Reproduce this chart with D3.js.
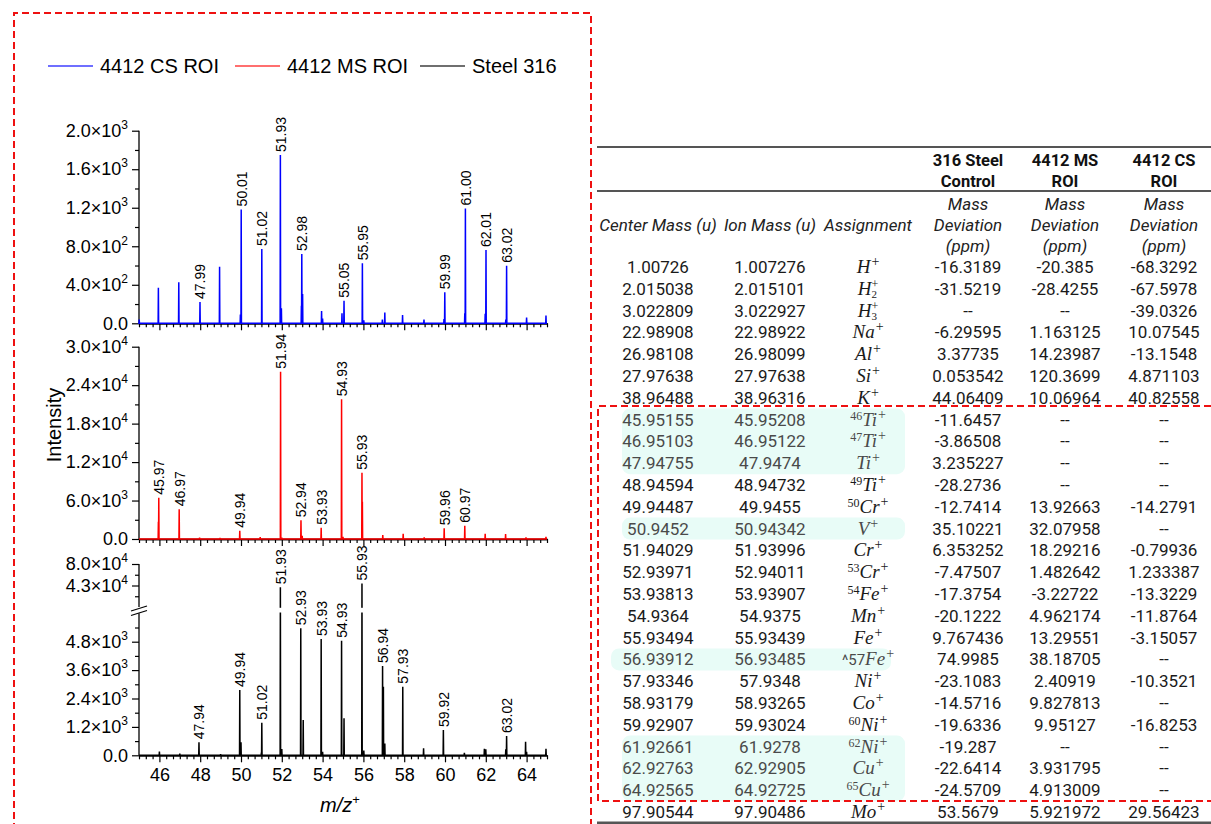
<!DOCTYPE html>
<html>
<head>
<meta charset="utf-8">
<script src="https://cdn.jsdelivr.net/npm/d3@7"></script>
<style>
  html, body { margin: 0; padding: 0; background: #fff; }
  svg { display: block; }
</style>
</head>
<body>
<svg id="chart" width="1211" height="824"></svg>
<script>
// ---------- spectra (m/z, intensity) ----------
const seriesNames = ["4412 CS ROI", "4412 MS ROI", "Steel 316"];
const seriesColors = ["#0000ff", "#ff0000", "#000000"];

const csMz  = [45.01, 45.95, 46.95, 47.99, 48.95, 49.97, 50.01, 51.02, 51.93, 51.98, 52.96, 52.98, 53.02, 53.95, 54.00, 54.95, 55.05, 55.95, 56.02, 56.93, 57.05, 57.92, 58.97, 59.95, 59.99, 60.97, 61.00, 61.97, 62.01, 62.98, 63.02, 64.00, 64.95];
const csInt = [40, 370, 425, 221, 588, 90, 1183, 771, 1747, 156, 183, 719, 304, 128, 50, 104, 235, 623, 30, 40, 113, 85, 40, 45, 323, 105, 1193, 100, 760, 40, 598, 60, 80];
const csLabels = [47.99, 50.01, 51.02, 51.93, 52.98, 55.05, 55.95, 59.99, 61.00, 62.01, 63.02];

const msMz  = [45.95, 45.97, 46.97, 47.97, 48.97, 49.94, 50.94, 51.94, 52.00, 52.94, 53.00, 53.93, 54.93, 55.00, 55.93, 55.95, 56.95, 57.95, 58.98, 59.96, 60.97, 61.97, 62.97, 63.97, 64.95];
const msInt = [2700, 6440, 4630, 200, 150, 1300, 300, 26100, 200, 2910, 500, 1770, 21790, 350, 10340, 5800, 620, 830, 250, 1660, 2080, 830, 780, 250, 350];
const msLabels = [45.97, 46.97, 49.94, 51.94, 52.94, 53.93, 54.93, 55.93, 59.96, 60.97];

const stMz  = [46.00, 47.00, 47.94, 49.00, 49.94, 50.00, 51.00, 51.02, 51.93, 52.00, 52.93, 53.05, 53.93, 54.00, 54.93, 55.05, 55.93, 56.02, 56.94, 56.98, 57.05, 57.93, 58.95, 59.92, 60.95, 61.93, 62.00, 62.98, 63.02, 63.95, 64.00, 64.95];
const stInt = [160, 70, 550, 50, 2760, 550, 120, 1377, 40000, 260, 5366, 1490, 4913, 150, 4842, 1563, 46500, 200, 3773, 2900, 500, 2900, 300, 1070, 100, 280, 250, 250, 815, 575, 150, 280];
const stLabels = [47.94, 49.94, 51.02, 51.93, 52.93, 53.93, 54.93, 55.93, 56.94, 57.93, 59.92, 63.02];

// ---------- axis ticks ----------
const xMajor = [46, 48, 50, 52, 54, 56, 58, 60, 62, 64];
const topTicks = [0, 400, 800, 1200, 1600, 2000];
const midTicks = [0, 6000, 12000, 18000, 24000, 30000];
const lowTicks = [0, 1200, 2400, 3600, 4800];
const highTicks = [43000, 80000];

// ---------- mass table ----------
const centerMass = [1.00726, 2.015038, 3.022809, 22.98908, 26.98108, 27.97638, 38.96488, 45.95155, 46.95103, 47.94755, 48.94594, 49.94487, 50.9452, 51.94029, 52.93971, 53.93813, 54.9364, 55.93494, 56.93912, 57.93346, 58.93179, 59.92907, 61.92661, 62.92763, 64.92565, 97.90544];
const ionMass = [1.007276, 2.015101, 3.022927, 22.98922, 26.98099, 27.97638, 38.96316, 45.95208, 46.95122, 47.9474, 48.94732, 49.9455, 50.94342, 51.93996, 52.94011, 53.93907, 54.9375, 55.93439, 56.93485, 57.9348, 58.93265, 59.93024, 61.9278, 62.92905, 64.92725, 97.90486];
const ionIsotope = ["", "", "", "", "", "", "", "46", "47", "", "49", "50", "", "", "53", "54", "", "", "^57", "", "", "60", "62", "", "65", ""];
const ionElement = ["H", "H", "H", "Na", "Al", "Si", "K", "Ti", "Ti", "Ti", "Ti", "Cr", "V", "Cr", "Cr", "Fe", "Mn", "Fe", "Fe", "Ni", "Co", "Ni", "Ni", "Cu", "Cu", "Mo"];
const ionSubscript = ["", "2", "3", "", "", "", "", "", "", "", "", "", "", "", "", "", "", "", "", "", "", "", "", "", "", ""];
const devSteel = [-16.3189, -31.5219, null, -6.29595, 3.37735, 0.053542, 44.06409, -11.6457, -3.86508, 3.235227, -28.2736, -12.7414, 35.10221, 6.353252, -7.47507, -17.3754, -20.1222, 9.767436, 74.9985, -23.1083, -14.5716, -19.6336, -19.287, -22.6414, -24.5709, 53.5679];
const devMS = [-20.385, -28.4255, null, 1.163125, 14.23987, 120.3699, 10.06964, null, null, null, null, 13.92663, 32.07958, 18.29216, 1.482642, -3.22722, 4.962174, 13.29551, 38.18705, 2.40919, 9.827813, 9.95127, null, 3.931795, 4.913009, 5.921972];
const devCS = [-68.3292, -67.5978, -39.0326, 10.07545, -13.1548, 4.871103, 40.82558, null, null, null, null, -14.2791, null, -0.79936, 1.233387, -13.3229, -11.8764, -3.15057, null, -10.3521, null, -16.8253, null, null, null, 29.56423];
const highlightGroups = [[7, 9], [12, 12], [18, 18], [22, 24]];
const sampleHeaders = [["316 Steel", "Control"], ["4412 MS", "ROI"], ["4412 CS", "ROI"]];
const mzHeaders = ["Center Mass (u)", "Ion Mass (u)", "Assignment"];
const devHeader = ["Mass", "Deviation", "(ppm)"];

// ---------- setup ----------
const svg = d3.select("#chart");
const sans = "'Liberation Sans', Arial, sans-serif";
const roboto = "Roboto, 'Noto Sans', sans-serif";
const serif = "'Liberation Serif', 'DejaVu Serif', serif";

const x = d3.scaleLinear().domain([45, 65]).range([139, 547]);
const yTop = d3.scaleLinear().domain([0, 2000]).range([323.3, 130.7]);
const yMid = d3.scaleLinear().domain([0, 30000]).range([539, 346.7]);
const yLow = d3.scaleLinear().domain([0, 6000]).range([755.3, 613.3]);
const yHigh = d3.scaleLinear().domain([6000, 80000]).range([607, 564]);
const yBroken = v => (v <= 6000 ? yLow(v) : yHigh(v));

// red dashed frames
function dashedPath(d) {
  svg.append("path").attr("d", d).attr("fill", "none")
    .attr("stroke", "#ee1111").attr("stroke-width", 2)
    .attr("stroke-dasharray", "7,4");
}
dashedPath("M14,830 L14,13 L591,13 L591,830");

// ---------- legend ----------
const legendX = [48, 235, 420];
seriesNames.forEach((name, i) => {
  const g = svg.append("g").attr("transform", `translate(${legendX[i]},66)`);
  g.append("line").attr("x1", 0).attr("x2", 45).attr("y1", 0).attr("y2", 0)
    .attr("stroke", seriesColors[i]).attr("stroke-width", 1.3).attr("opacity", 0.75);
  g.append("text").attr("x", 52).attr("y", 7).attr("font-family", sans).attr("font-size", 20)
    .attr("fill", "#000").text(name);
});

// ---------- axes ----------
function sciParts(v) {
  if (v === 0) return ["0.0", null];
  const e = Math.floor(Math.log10(v) + 1e-9);
  const m = v / Math.pow(10, e);
  return [m.toFixed(1) + "×10", String(e)];
}
function styleAxis(g) {
  g.selectAll("path.domain").attr("stroke", "#000").attr("stroke-width", 1.3);
  g.selectAll(".tick line").attr("stroke", "#000").attr("stroke-width", 1.2);
}
function leftAxis(scale, ticks, minor, domainTop, domainBottom) {
  const g = svg.append("g").attr("transform", "translate(139,0)");
  g.call(d3.axisLeft(scale).tickValues(minor).tickSize(4).tickSizeOuter(0).tickFormat(""));
  g.select("path.domain").remove();
  const gm = svg.append("g").attr("transform", "translate(139,0)");
  gm.call(d3.axisLeft(scale).tickValues(ticks).tickSize(7).tickPadding(4).tickSizeOuter(0));
  gm.select("path.domain").remove();
  gm.append("line").attr("x1", 0).attr("x2", 0).attr("y1", domainTop).attr("y2", domainBottom)
    .attr("stroke", "#000").attr("stroke-width", 1.3);
  gm.selectAll(".tick text").each(function (d) {
    const t = d3.select(this);
    const [main, ex] = sciParts(d);
    t.text(null).attr("font-family", sans).attr("font-size", 18).attr("fill", "#000");
    t.append("tspan").text(main);
    if (ex !== null) t.append("tspan").attr("dy", -8).attr("font-size", 12).text(ex);
  });
  styleAxis(g); styleAxis(gm);
}
function bottomAxis(y0, withLabels) {
  const minor = d3.range(0, 61).map(i => 45 + i / 3).filter(v => Math.abs(v - Math.round(v)) > 1e-6 || Math.round(v) % 2 === 1);
  const g = svg.append("g").attr("transform", `translate(0,${y0})`);
  g.call(d3.axisBottom(x).tickValues(minor).tickSize(4).tickSizeOuter(0).tickFormat(""));
  const gm = svg.append("g").attr("transform", `translate(0,${y0})`);
  gm.call(d3.axisBottom(x).tickValues(xMajor).tickSize(7).tickPadding(6).tickSizeOuter(0)
    .tickFormat(withLabels ? d3.format("d") : ""));
  gm.selectAll(".tick text").attr("font-family", sans).attr("font-size", 18).attr("fill", "#000");
  styleAxis(g); styleAxis(gm);
}

leftAxis(yTop, topTicks, [200, 600, 1000, 1400, 1800], yTop(2000), yTop(0));
leftAxis(yMid, midTicks, [3000, 9000, 15000, 21000, 27000], yMid(30000), yMid(0));
leftAxis(yLow, lowTicks, [600, 1800, 3000, 4200, 5400], yLow(6000), yLow(0));
leftAxis(yHigh, highTicks, [24500, 61500], yHigh(80000), yHigh(6000));
bottomAxis(yTop(0), false);
bottomAxis(yMid(0), false);
bottomAxis(yLow(0), true);

// ---------- spectra ----------
function spectrumPoints(mz, inten) {
  const pts = [[45, 0]];
  d3.range(mz.length).map(i => [mz[i], inten[i]]).sort((a, b) => a[0] - b[0])
    .forEach(([m, v]) => { pts.push([m - 0.012, 0], [m, v], [m + 0.012, 0]); });
  pts.push([65, 0]);
  return pts;
}
function drawSpectrum(mz, inten, yFn, color) {
  const line = d3.line().x(d => x(d[0])).y(d => yFn(d[1]));
  svg.append("path").datum(spectrumPoints(mz, inten)).attr("d", line)
    .attr("fill", "none").attr("stroke", color).attr("stroke-width", 1.5).attr("stroke-linejoin", "miter");
}
function drawPeakLabels(mz, inten, yFn, labels) {
  svg.append("g").selectAll("text").data(labels).join("text")
    .attr("transform", d => {
      const v = inten[mz.indexOf(d)];
      return `translate(${x(d)},${yFn(v) - 3}) rotate(-90)`;
    })
    .attr("dy", "0.38em").attr("font-family", sans).attr("font-size", 14).attr("fill", "#000")
    .text(d => d3.format(".2f")(d));
}
drawSpectrum(csMz, csInt, yTop, seriesColors[0]);
drawSpectrum(msMz, msInt, yMid, seriesColors[1]);
drawSpectrum(stMz, stInt, yBroken, seriesColors[2]);

// axis break: gap across the lower panel and the double slash on the axis
svg.append("rect").attr("x", 133).attr("y", yHigh(6000) + 0.8).attr("width", 416)
  .attr("height", yLow(6000) - yHigh(6000) - 1.6).attr("fill", "#fff");
[0, 4.5].forEach(off => {
  svg.append("line").attr("x1", 131).attr("y1", 611 + off).attr("x2", 147).attr("y2", 606 + off)
    .attr("stroke", "#000").attr("stroke-width", 1.3);
});

drawPeakLabels(csMz, csInt, yTop, csLabels);
drawPeakLabels(msMz, msInt, yMid, msLabels);
drawPeakLabels(stMz, stInt, yBroken, stLabels);

// axis titles
svg.append("text").attr("transform", "translate(61,425) rotate(-90)").attr("text-anchor", "middle")
  .attr("font-family", sans).attr("font-size", 20).attr("fill", "#000").text("Intensity");
const xt = svg.append("text").attr("x", 340).attr("y", 812).attr("text-anchor", "middle")
  .attr("font-family", sans).attr("font-size", 20).attr("fill", "#000");
xt.append("tspan").attr("font-style", "italic").text("m/z");
xt.append("tspan").attr("dy", -8).attr("font-size", 13).text("+");

// ---------- table ----------
const colX = [658, 770, 868, 968, 1065, 1164];
const rowY = i => 267 + i * 21.8;
const tableLeft = 597, tableRight = 1211;

// highlighted blocks
highlightGroups.forEach(([a, b]) => {
  const isFe = a === 18;
  svg.append("rect")
    .attr("x", isFe ? 611 : 622).attr("y", rowY(a) - 11)
    .attr("width", isFe ? 280 : 283).attr("height", rowY(b) - rowY(a) + 22)
    .attr("rx", 8).attr("fill", "#e8fcf7");
});

// rules
svg.append("line").attr("x1", tableLeft).attr("x2", tableRight).attr("y1", 147).attr("y2", 147)
  .attr("stroke", "#555").attr("stroke-width", 2.2);
svg.append("line").attr("x1", tableLeft).attr("x2", tableRight).attr("y1", 191).attr("y2", 191)
  .attr("stroke", "#555").attr("stroke-width", 2.2);
svg.append("line").attr("x1", tableLeft).attr("x2", tableRight).attr("y1", 823).attr("y2", 823)
  .attr("stroke", "#555").attr("stroke-width", 3);

// header
sampleHeaders.forEach((lines, i) => {
  lines.forEach((t, j) => {
    svg.append("text").attr("x", colX[3 + i]).attr("y", 160 + j * 21).attr("dy", "0.35em")
      .attr("text-anchor", "middle").attr("font-family", roboto).attr("font-weight", "bold")
      .attr("font-size", 16.5).attr("fill", "#111").text(t);
  });
  devHeader.forEach((t, j) => {
    svg.append("text").attr("x", colX[3 + i]).attr("y", 204 + j * 21).attr("dy", "0.35em")
      .attr("text-anchor", "middle").attr("font-family", roboto).attr("font-style", "italic")
      .attr("font-size", 17).attr("fill", "#222").text(t);
  });
});
mzHeaders.forEach((t, i) => {
  svg.append("text").attr("x", colX[i]).attr("y", 225).attr("dy", "0.35em")
    .attr("text-anchor", "middle").attr("font-family", roboto).attr("font-style", "italic")
    .attr("font-size", 17).attr("fill", "#222").text(t);
});

// body
const isHighlighted = i => highlightGroups.some(([a, b]) => i >= a && i <= b);
const fmt = v => (v === null ? "--" : String(v));
centerMass.forEach((cm, i) => {
  const y = rowY(i);
  const base = y + 6;
  const soft = isHighlighted(i) ? "#4a4a4a" : "#1a1a1a";
  const cells = [fmt(cm), fmt(ionMass[i]), null, fmt(devSteel[i]), fmt(devMS[i]), fmt(devCS[i])];
  cells.forEach((t, c) => {
    if (t === null) return;
    svg.append("text").attr("x", colX[c]).attr("y", base)
      .attr("text-anchor", "middle").attr("font-family", roboto).attr("font-size", 17)
      .attr("fill", c < 3 ? soft : "#1a1a1a").text(t);
  });
  // ion assignment: isotope prefix, element, optional subscript, charge (relative shifts keep one text chunk)
  const a = svg.append("text").attr("x", colX[2]).attr("y", base)
    .attr("text-anchor", "middle").attr("fill", soft);
  const iso = ionIsotope[i];
  let shift = 0;
  if (iso.startsWith("^")) {
    a.append("tspan").attr("font-family", roboto).attr("font-size", 15).text(iso);
  } else if (iso) {
    a.append("tspan").attr("dy", -6).attr("font-family", serif).attr("font-size", 12).text(iso);
    shift = 6;
  }
  a.append("tspan").attr("dy", shift).attr("font-family", serif).attr("font-style", "italic")
    .attr("font-size", 19).text(ionElement[i]);
  if (ionSubscript[i]) {
    a.append("tspan").attr("dy", 3.5).attr("font-family", serif).attr("font-size", 11).text(ionSubscript[i]);
    a.append("tspan").attr("dx", -5.5).attr("dy", -10.5).attr("font-family", serif).attr("font-size", 12).text("+");
  } else {
    a.append("tspan").attr("dx", 1).attr("dy", -7).attr("font-family", serif).attr("font-size", 14).text("+");
  }
});

// dashed outline around the titanium-to-copper block
dashedPath(`M${tableRight},406 L598,406 L598,801 L${tableRight},801`);
</script>
</body>
</html>
